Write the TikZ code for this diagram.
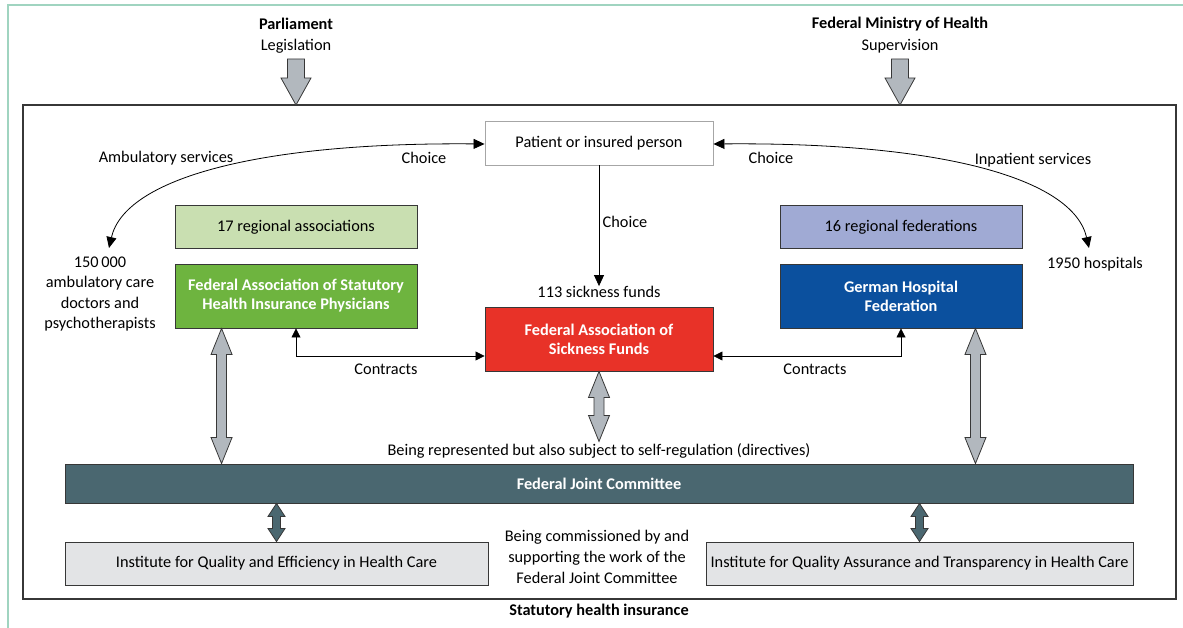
\documentclass[tikz,border=0pt]{standalone}
\usepackage{fontspec}
\setmainfont{Carlito}
\usetikzlibrary{positioning,calc,arrows.meta}

\definecolor{framegreen}{RGB}{160,212,192}
\definecolor{boxline}{RGB}{55,55,55}
\definecolor{lightgreen}{RGB}{201,223,177}
\definecolor{kbvgreen}{RGB}{110,180,63}
\definecolor{lightblue}{RGB}{160,170,212}
\definecolor{dkgblue}{RGB}{11,80,158}
\definecolor{gkvred}{RGB}{232,50,40}
\definecolor{fjcslate}{RGB}{74,103,112}
\definecolor{instgray}{RGB}{227,228,230}
\definecolor{arrowgray}{RGB}{178,184,190}

\newcommand{\txt}{\fontsize{16.3}{19}\selectfont}

% single block arrow pointing down, from #1 to #2
\newcommand{\blockdown}[2]{%
  \path[block] let \p1=#1, \p2=#2 in
    (\x1-8.5pt,\y1) -- (\x1+8.5pt,\y1) -- (\x1+8.5pt,\y2+27pt) -- (\x1+15pt,\y2+27pt)
    -- (\x1,\y2) -- (\x1-15pt,\y2+27pt) -- (\x1-8.5pt,\y2+27pt) -- cycle;}

% double block arrow, #1 top, #2 bottom, #3 shaft, #4 head, #5 head length, #6 style
\newcommand{\dblarrow}[6]{%
  \path[#6] let \p1=#1, \p2=#2 in
    (\x1,\y1) -- (\x1+#4,\y1-#5) -- (\x1+#3,\y1-#5) -- (\x1+#3,\y2+#5) -- (\x1+#4,\y2+#5)
    -- (\x1,\y2) -- (\x1-#4,\y2+#5) -- (\x1-#3,\y2+#5) -- (\x1-#3,\y1-#5) -- (\x1-#4,\y1-#5) -- cycle;}

\tikzset{
  label/.style={font=\txt, inner sep=1pt},
  title/.style={font=\txt\bfseries, inner sep=1pt},
  box/.style={draw=boxline, line width=0.9pt, align=center, inner sep=2pt,
    minimum width=242pt, minimum height=43pt, font=\txt},
  bigbox/.style={box, minimum height=64pt, text=white, font=\txt\bfseries},
  block/.style={fill=arrowgray, draw=boxline, line width=0.8pt},
  darkblock/.style={fill=fjcslate, draw=boxline, line width=0.8pt},
  conn/.style={line width=0.8pt, {Triangle[length=11pt,width=10pt]}-{Triangle[length=11pt,width=10pt]}},
  contr/.style={line width=0.8pt, {Triangle[length=9pt,width=9pt]}-{Triangle[length=9pt,width=9pt]}},
}

\begin{document}
\begin{tikzpicture}[x=1pt,y=-1pt]
  \useasboundingbox (0,0) rectangle (1183,628);
  \draw[framegreen, line width=1.2pt] (8,628) -- (8,5) -- (1183,5);

  % outer frame
  \coordinate (frameNW) at (23,105);
  \coordinate (frameSE) at (1176,599);
  \draw[boxline, line width=1.3pt] (frameNW) rectangle (frameSE);

  % top authorities
  \node[title] (parl) at (296,24) {Parliament};
  \node[label] (legis) at (296,46) {Legislation};
  \node[title] (bmg) at (900,24) {Federal Ministry of Health};
  \node[label] (superv) at (900,46) {Supervision};
  \coordinate (legisFoot) at (296,59);
  \coordinate (supervFoot) at (900,59);
  \blockdown{(legisFoot)}{(legisFoot |- frameNW)}
  \blockdown{(supervFoot)}{(supervFoot |- frameNW)}

  % patient and choices
  \node[box, draw=gray!70, minimum width=228pt, minimum height=44pt] (patient) at (599,143) {Patient or insured person};
  \node[label] (ambserv) at (166,158) {Ambulatory services};
  \node[label] (choiceL) at (424,158) {Choice};
  \node[label] (choiceR) at (771,158) {Choice};
  \node[label] (inpat) at (1033,160) {Inpatient services};
  \node[label, align=center, font=\fontsize{16.3}{20.5}\selectfont] (doctors) at (100,294)
    {150\,000\\ambulatory care\\doctors and\\psychotherapists};
  \node[label] (hosp) at (1095,264) {1950 hospitals};
  \coordinate (docTip) at (109,248);
  \coordinate (hospTip) at (1089,248);
  \draw[conn] ([yshift=-1pt]patient.west) .. controls (260,142) and (125,178) .. (docTip);
  \draw[conn] ([yshift=-1pt]patient.east) .. controls (940,142) and (1073,178) .. (hospTip);

  % associations
  \node[box, fill=lightgreen] (regassoc) at (296,227) {17 regional associations};
  \node[bigbox, fill=kbvgreen] (kbv) at (296,296) {Federal Association of Statutory\\Health Insurance Physicians};
  \node[box, fill=lightblue] (regfed) at (901,227) {16 regional federations};
  \node[bigbox, fill=dkgblue] (dkg) at (901,296) {German Hospital\\Federation};

  % sickness funds
  \node[bigbox, fill=gkvred, minimum width=228pt] (gkv) at (599,339) {Federal Association of\\Sickness Funds};
  \node[label] (funds) at (599,292) {113 sickness funds};
  \node[label] (choiceM) at (625,222) {Choice};
  \draw[line width=0.8pt, -{Triangle[length=11pt,width=10pt]}] (patient.south) -- ([yshift=-1pt]funds.north);

  % contracts
  \draw[contr] (kbv.south) |- ([yshift=-17pt]gkv.west);
  \draw[contr] ([yshift=-17pt]gkv.east) -| (dkg.south);
  \node[label] (contrL) at (386,369) {Contracts};
  \node[label] (contrR) at (815,369) {Contracts};

  % joint committee
  \node[label] (repr) at (599,451) {Being represented but also subject to self-regulation (directives)};
  \node[box, fill=fjcslate, minimum width=1068pt, minimum height=39pt, text=white, font=\txt\bfseries] (fjc) at (599,483.5) {Federal Joint Committee};
  \coordinate (kbvFoot) at ($(kbv.south west)+(47,0)$);
  \coordinate (dkgFoot) at ($(dkg.south east)+(-47,0)$);
  \dblarrow{(kbvFoot)}{(kbvFoot |- fjc.north)}{5pt}{10.5pt}{26pt}{block}
  \dblarrow{(dkgFoot)}{(dkgFoot |- fjc.north)}{5pt}{10.5pt}{26pt}{block}
  \dblarrow{(gkv.south)}{([yshift=1pt]repr.north)}{5pt}{10.5pt}{26pt}{block}

  % institutes
  \node[box, fill=instgray, minimum width=423pt] (iqwig) at (276.5,563.5) {Institute for Quality and Efficiency in Health Care};
  \node[box, fill=instgray, minimum width=427pt] (iqtig) at (919.5,563.5) {Institute for Quality Assurance and Transparency in Health Care};
  \node[label, align=center, font=\fontsize{16.3}{21}\selectfont] (commis) at (597,557)
    {Being commissioned by and\\supporting the work of the\\Federal Joint Committee};
  \dblarrow{(iqwig.north |- fjc.south)}{(iqwig.north)}{4pt}{8.5pt}{13pt}{darkblock}
  \dblarrow{(iqtig.north |- fjc.south)}{(iqtig.north)}{4pt}{8.5pt}{13pt}{darkblock}

  \node[title] (shi) at (599,611) {Statutory health insurance};
\end{tikzpicture}
\end{document}
